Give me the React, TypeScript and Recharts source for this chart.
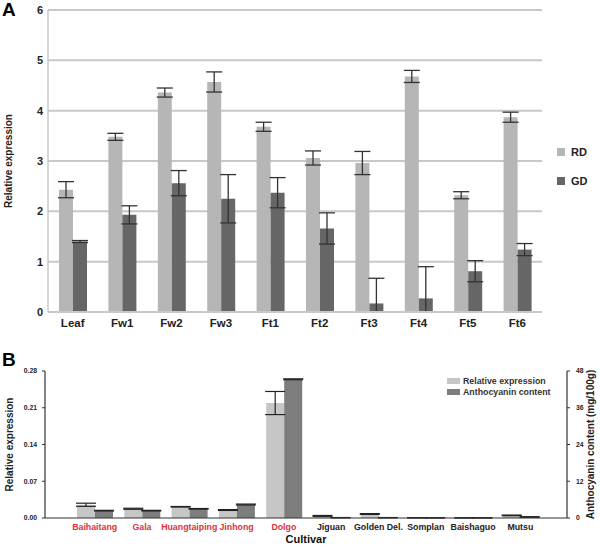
import { BarChart, Bar, XAxis, YAxis, CartesianGrid, ErrorBar, Legend } from "recharts";

const FONT = "Arial, 'Liberation Sans', sans-serif";

// panel A
const tissues = ["Leaf", "Fw1", "Fw2", "Fw3", "Ft1", "Ft2", "Ft3", "Ft4", "Ft5", "Ft6"];
const rdValues = [2.43, 3.48, 4.36, 4.57, 3.68, 3.06, 2.96, 4.68, 2.32, 3.87];
const rdErrors = [0.16, 0.07, 0.09, 0.2, 0.09, 0.14, 0.23, 0.12, 0.07, 0.1];
const gdValues = [1.4, 1.93, 2.56, 2.25, 2.37, 1.66, 0.17, 0.27, 0.81, 1.24];
const gdErrors: (number | number[])[] = [0.02, 0.18, 0.25, 0.48, 0.3, 0.31, [0.17, 0.5], [0.27, 0.63], 0.21, 0.12];
const yTicksA = [0, 1, 2, 3, 4, 5, 6];

// panel B
const cultivars = ["Baihaitang", "Gala", "Huangtaiping", "Jinhong", "Dolgo", "Jiguan", "Golden Del.", "Somplan", "Baishaguo", "Mutsu"];
const redCultivars = ["Baihaitang", "Gala", "Huangtaiping", "Jinhong", "Dolgo"];
const relExpr = [0.0252, 0.0176, 0.0214, 0.0152, 0.219, 0.004, 0.0076, 0.0004, 0.0003, 0.005];
const relErr = [0.003, 0.001, 0.0005, 0.0008, 0.022, 0.0008, 0.0008, 0.0002, 0.0002, 0.0006];
const anthocyanin = [2.4, 2.4, 3.0, 4.4, 45.3, 0.1, 0.1, 0.05, 0.05, 0.35];
const anthoErr = [0.1, 0.1, 0.1, 0.15, 0.15, 0.05, 0.05, 0.02, 0.02, 0.08];
const leftTicksB = [0, 0.07, 0.14, 0.21, 0.28];
const rightTicksB = [0, 12, 24, 36, 48];

const dataA = tissues.map((t, i) => ({
  name: t, RD: rdValues[i], rdErr: rdErrors[i], GD: gdValues[i], gdErr: gdErrors[i],
}));

const dataB = cultivars.map((c, i) => ({
  name: c, rel: relExpr[i], relErr: relErr[i], antho: anthocyanin[i], anthoErr: anthoErr[i],
}));

const LegendA = () => (
  <div style={{ fontFamily: FONT, fontWeight: "bold", fontSize: 11, color: "#222" }}>
    {[["RD", "#b6b6b6"], ["GD", "#666666"]].map(([n, c]) => (
      <div key={n} style={{ display: "flex", alignItems: "center", height: 29 }}>
        <span style={{ width: 8, height: 8, background: c, marginRight: 6 }} />
        {n}
      </div>
    ))}
  </div>
);

const LegendB = () => (
  <div style={{ fontFamily: FONT, fontWeight: "bold", fontSize: 8.8, color: "#333" }}>
    {[["Relative expression", "#c6c6c6"], ["Anthocyanin content", "#7d7d7d"]].map(([n, c]) => (
      <div key={n} style={{ display: "flex", alignItems: "center", height: 10.5 }}>
        <span style={{ width: 13, height: 6, background: c, marginRight: 3 }} />
        {n}
      </div>
    ))}
  </div>
);

const CultivarTick = (props: any) => {
  const { x, y, payload } = props;
  const red = redCultivars.includes(payload.value);
  return (
    <text x={x} y={y + 8.5} textAnchor="middle" fontFamily={FONT} fontWeight="bold" fontSize={8.8}
      fill={red ? "#e0303c" : "#222"}>
      {payload.value}
    </text>
  );
};

export default function App() {
  const tickAX = { fontSize: 11.5, fontWeight: "bold", fill: "#222", fontFamily: FONT };
  const tickAY = { fontSize: 11, fontWeight: "bold", fill: "#222", fontFamily: FONT };
  const tickB = { fontSize: 6.8, fontWeight: "bold", fill: "#222", fontFamily: FONT };
  return (
    <div style={{ position: "absolute", left: 0, top: 0, width: 600, height: 545, background: "#fff" }}>
      <div style={{ position: "absolute", left: 2, top: 0, lineHeight: 1, fontFamily: FONT, fontWeight: "bold", fontSize: 19 }}>A</div>
      <div style={{ position: "absolute", left: 2, top: 350, lineHeight: 1, fontFamily: FONT, fontWeight: "bold", fontSize: 19 }}>B</div>

      <div style={{ position: "absolute", left: 0, top: 0 }}>
        <BarChart width={600} height={335} data={dataA} margin={{ top: 10, right: 58, left: 0, bottom: 0 }}
          barSize={14} barGap={0}>
          <CartesianGrid vertical={false} stroke="#c8c8c8" strokeWidth={2} />
          <XAxis dataKey="name" height={23} tickLine={false} axisLine={{ stroke: "#c8c8c8", strokeWidth: 2 }}
            tick={tickAX} tickSize={3} tickMargin={4} interval={0} />
          <YAxis width={48} domain={[0, 6]} ticks={yTicksA} tickLine={false} tickSize={3} tickMargin={2}
            axisLine={{ stroke: "#c8c8c8", strokeWidth: 1.5 }} tick={tickAY}
            label={{ value: "Relative expression", angle: -90, position: "insideLeft", offset: 8,
              style: { textAnchor: "middle", fontFamily: FONT, fontWeight: "bold", fontSize: 10, fill: "#222" } }} />
          <Legend content={<LegendA />} layout="vertical" verticalAlign="middle" align="center"
            wrapperStyle={{ left: 557, top: 137, width: 40 }} />
          <Bar dataKey="RD" fill="#b6b6b6" isAnimationActive={false}>
            <ErrorBar dataKey="rdErr" direction="y" width={8} stroke="#333" strokeWidth={1.3} />
          </Bar>
          <Bar dataKey="GD" fill="#666666" isAnimationActive={false}>
            <ErrorBar dataKey="gdErr" direction="y" width={8} stroke="#333" strokeWidth={1.3} />
          </Bar>
        </BarChart>
      </div>

      <div style={{ position: "absolute", left: 0, top: 340 }}>
        <BarChart width={600} height={205} data={dataB} margin={{ top: 31, right: 0, left: 0, bottom: 0 }}
          barSize={18} barGap={0}>
          <XAxis dataKey="name" height={27} interval={0} tickLine={false} tickSize={3} tickMargin={0}
            axisLine={{ stroke: "#333", strokeWidth: 1.2 }} tick={<CultivarTick />}
            padding={{ left: 26, right: 23 }}
            label={{ value: "Cultivar", position: "insideBottom", offset: 2,
              style: { fontFamily: FONT, fontWeight: "bold", fontSize: 11, fill: "#111" } }} />
          <YAxis yAxisId="left" width={45} domain={[0, 0.28]} ticks={leftTicksB} tickSize={3} tickMargin={5}
            tickFormatter={(v: number) => v.toFixed(2)} tick={tickB}
            axisLine={{ stroke: "#333", strokeWidth: 1.2 }} tickLine={{ stroke: "#333" }}
            label={{ value: "Relative expression", angle: -90, position: "insideLeft", offset: 9,
              style: { textAnchor: "middle", fontFamily: FONT, fontWeight: "bold", fontSize: 10, fill: "#222" } }} />
          <YAxis yAxisId="right" orientation="right" width={33} domain={[0, 48]} ticks={rightTicksB}
            tickSize={3} tickMargin={6} tick={tickB}
            axisLine={{ stroke: "#333", strokeWidth: 1.2 }} tickLine={{ stroke: "#333" }}
            label={{ value: "Anthocyanin content (mg/100g)", angle: -90, position: "insideRight", offset: 10,
              style: { textAnchor: "middle", fontFamily: FONT, fontWeight: "bold", fontSize: 10, fill: "#222" } }} />
          <Legend content={<LegendB />} layout="vertical" verticalAlign="middle" align="center"
            wrapperStyle={{ left: 447, top: 36, width: 120 }} />
          <Bar yAxisId="left" dataKey="rel" fill="#c6c6c6" isAnimationActive={false}>
            <ErrorBar dataKey="relErr" direction="y" width={10} stroke="#222" strokeWidth={1.2} />
          </Bar>
          <Bar yAxisId="right" dataKey="antho" fill="#7d7d7d" isAnimationActive={false}>
            <ErrorBar dataKey="anthoErr" direction="y" width={10} stroke="#222" strokeWidth={1.2} />
          </Bar>
        </BarChart>
      </div>
    </div>
  );
}
